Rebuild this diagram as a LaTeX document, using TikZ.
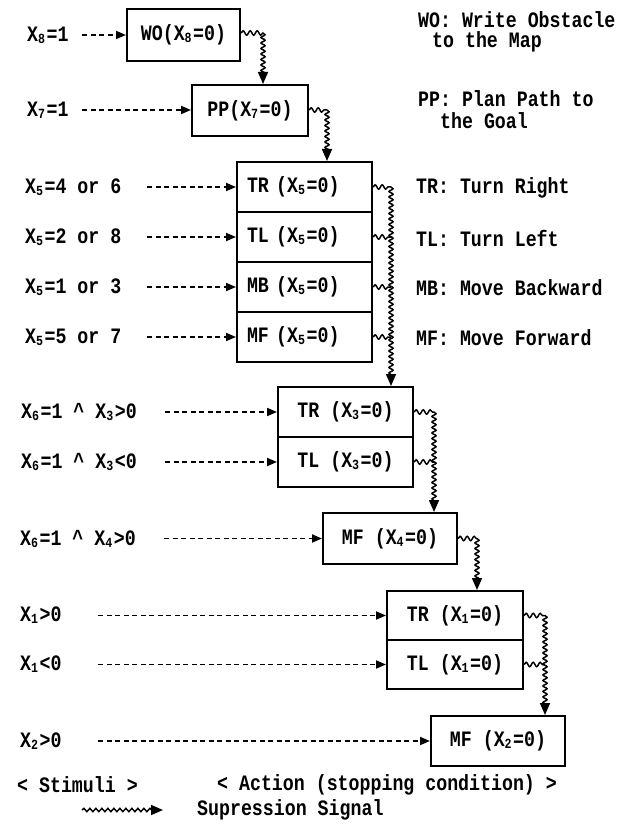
\documentclass[tikz,border=0pt]{standalone}
\usepackage{fontspec}
\setmainfont{Liberation Mono}[FakeStretch=0.83]
\usetikzlibrary{arrows.meta,decorations.pathmorphing}
\newcommand\lo[1]{\raisebox{-2pt}{\fontsize{14}{14}\selectfont #1}\kern1.5pt}
\begin{document}
\begin{tikzpicture}[x=1pt,y=-1pt,
  font=\bfseries\fontsize{22}{22}\selectfont,
  box/.style={draw, line width=2pt, inner sep=0pt, minimum height=50pt},
  leftbox/.style={box, text width=115pt, inner xsep=10pt, inner ysep=0pt, align=left},
  stim/.style={anchor=west, inner sep=0pt},
  dasharrow/.style={line width=1.8pt, dash pattern=on 5pt off 3.5pt, -{Triangle[length=10pt,width=8pt]}},
  wavy/.style={line width=1.5pt, decorate, decoration={snake, amplitude=2.2pt, segment length=7pt}},
  wavyarrow/.style={line width=1.5pt, decorate, decoration={snake, amplitude=2pt, segment length=5.5pt, post length=9pt}, -{Triangle[length=12pt,width=10pt]}}
]
\useasboundingbox (0,0) rectangle (621,826);

% boxes
\node[box, minimum width=113pt, minimum height=52pt] (wo) at (183.5,35) {WO(X\lo{8}=0)};
\node[box, minimum width=116pt, minimum height=51pt] (pp) at (250,110.5) {PP(X\lo{7}=0)};
\node[leftbox] (tr5) at (304.5,187) {TR (X\lo{5}=0)};
\node[leftbox] (tl5) at (304.5,237) {TL (X\lo{5}=0)};
\node[leftbox] (mb5) at (304.5,287) {MB (X\lo{5}=0)};
\node[leftbox] (mf5) at (304.5,337) {MF (X\lo{5}=0)};
\node[box, minimum width=135pt] (tr3) at (345.5,412) {TR (X\lo{3}=0)};
\node[box, minimum width=135pt] (tl3) at (345.5,462) {TL (X\lo{3}=0)};
\node[box, minimum width=134pt, minimum height=51pt] (mf4) at (390,538.5) {MF (X\lo{4}=0)};
\node[box, minimum width=136pt, minimum height=49pt] (tr1) at (455,615.5) {TR (X\lo{1}=0)};
\node[box, minimum width=136pt, minimum height=49pt] (tl1) at (455,664.5) {TL (X\lo{1}=0)};
\node[box, minimum width=134pt] (mf2) at (498,741) {MF (X\lo{2}=0)};

% stimuli
\node[stim] (s8) at (27,35) {X\lo{8}=1};
\node[stim] (s7) at (27,110) {X\lo{7}=1};
\node[stim] (s5a) at (25,187) {X\lo{5}=4 or 6};
\node[stim] (s5b) at (25,237) {X\lo{5}=2 or 8};
\node[stim] (s5c) at (25,287) {X\lo{5}=1 or 3};
\node[stim] (s5d) at (25,337) {X\lo{5}=5 or 7};
\node[stim] (s3a) at (21,412) {X\lo{6}=1 \textasciicircum{} X\lo{3}>0};
\node[stim] (s3b) at (21,462) {X\lo{6}=1 \textasciicircum{} X\lo{3}<0};
\node[stim] (s4) at (20,538.5) {X\lo{6}=1 \textasciicircum{} X\lo{4}>0};
\node[stim] (s1a) at (20,615.5) {X\lo{1}>0};
\node[stim] (s1b) at (20,664.5) {X\lo{1}<0};
\node[stim] (s2) at (20,741) {X\lo{2}>0};

\coordinate (d8) at (82,35);
\coordinate (d7) at (82,110);
\coordinate (d5) at (147,187);
\coordinate (d3) at (165,412);
\coordinate (d4) at (164,538.5);
\coordinate (d1) at (98,615.5);

\draw[dasharrow] (d8) -- (wo.west |- d8);
\draw[dasharrow] (d7) -- (pp.west |- d7);
\draw[dasharrow] (d5) -- (tr5.west);
\draw[dasharrow] (d5 |- tl5) -- (tl5.west);
\draw[dasharrow] (d5 |- mb5) -- (mb5.west);
\draw[dasharrow] (d5 |- mf5) -- (mf5.west);
\draw[dasharrow] (d3) -- (tr3.west);
\draw[dasharrow] (d3 |- tl3) -- (tl3.west);
\draw[dasharrow] (d4) -- (mf4.west);
\draw[dasharrow] (d1) -- (tr1.west);
\draw[dasharrow] (d1 |- tl1) -- (tl1.west);
\draw[dasharrow] (d1 |- mf2) -- (mf2.west);

% suppression signals
\coordinate (bw) at (263,33);
\draw[wavy] (wo.east |- bw) -- (bw);
\draw[wavyarrow] (bw) -- (bw |- pp.north);

\coordinate (bp) at (327,110);
\draw[wavy] (pp.east |- bp) -- (bp);
\draw[wavyarrow] (bp) -- (bp |- tr5.north);

\coordinate (b5) at (391,187);
\foreach \n in {tr5,tl5,mb5,mf5} \draw[wavy] (\n.east) -- (\n.east -| b5);
\draw[wavyarrow] (b5) -- (b5 |- tr3.north);

\coordinate (b3) at (434,412);
\foreach \n in {tr3,tl3} \draw[wavy] (\n.east) -- (\n.east -| b3);
\draw[wavyarrow] (b3) -- (b3 |- mf4.north);

\coordinate (b4) at (477,538.5);
\draw[wavy] (mf4.east) -- (b4);
\draw[wavyarrow] (b4) -- (b4 |- tr1.north);

\coordinate (b1) at (545,615.5);
\foreach \n in {tr1,tl1} \draw[wavy] (\n.east) -- (\n.east -| b1);
\draw[wavyarrow] (b1) -- (b1 |- mf2.north);

% legend
\node[stim] (lwo) at (418,20) {WO: Write Obstacle};
\node[stim] (lwo2) at (432,42) {to the Map};
\node[stim] (lpp) at (418,99) {PP: Plan Path to};
\node[stim] (lpp2) at (440,121) {the Goal};
\node[stim] (ltr) at (416,188) {TR: Turn Right};
\node[stim] (ltl) at (416,238) {TL: Turn Left};
\node[stim] (lmb) at (416,288) {MB: Move Backward};
\node[stim] (lmf) at (416,338) {MF: Move Forward};

\node[stim] (lst) at (17,785) {< Stimuli >};
\node[stim] (lac) at (217,785) {< Action (stopping condition) >};
\coordinate (ls) at (82,810);
\coordinate (le) at (163,810);
\draw[wavyarrow, decoration={snake, amplitude=1.6pt, segment length=6pt, post length=11pt}] (ls) -- (le);
\node[stim] (lsup) at (197,810) {Supression Signal};
\end{tikzpicture}
\end{document}
